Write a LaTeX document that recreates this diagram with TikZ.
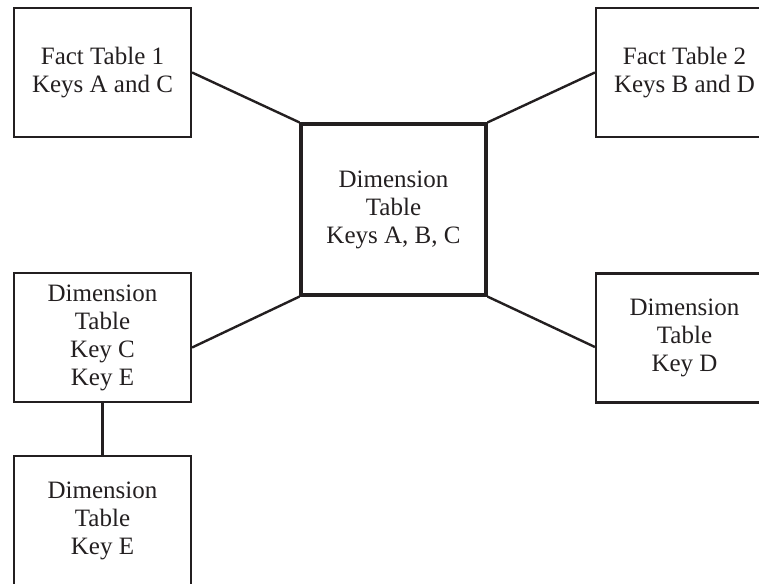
\documentclass[tikz,border=0pt]{standalone}
\usepackage{fontspec}
\setmainfont{Liberation Serif}
\definecolor{ink}{HTML}{231F20}
\begin{document}
\begin{tikzpicture}[x=1pt,y=-1pt,
  tbl/.style={draw=ink, text=ink, line width=2.2pt, rectangle, inner sep=0pt,
    minimum width=177pt, minimum height=129pt, align=center,
    font=\fontsize{25}{28}\selectfont},
  hub/.style={tbl, line width=3.2pt, minimum width=185pt, minimum height=171pt},
  link/.style={draw=ink, line width=2.4pt}]
\useasboundingbox (0,0) rectangle (759,583);
% tables
\node[tbl] (ft1) at (102.5,72.5) {Fact Table 1\\Keys A and C};
\node[tbl] (ft2) at (684.5,72.5) {Fact Table 2\\Keys B and D};
\node[hub] (dabc) at (393.5,209.5) {Dimension\\Table\\Keys A, B, C};
\node[tbl] (dce) at (102.5,337.5) {Dimension\\Table\\Key C\\Key E};
\node[tbl] (dd) at (684.5,338) {Dimension\\Table\\Key D};
\node[tbl] (de) at (102.5,520.5) {Dimension\\Table\\Key E};
% connectors
\draw[link] (ft1.east) -- (dabc.north west);
\draw[link] (dabc.north east) -- (ft2.west);
\draw[link] ([yshift=-10pt]dce.east) -- (dabc.south west);
\draw[link] (dabc.south east) -- ([yshift=-9pt]dd.west);
\draw[link] (dce.south) -- (de.north);
\end{tikzpicture}
\end{document}
